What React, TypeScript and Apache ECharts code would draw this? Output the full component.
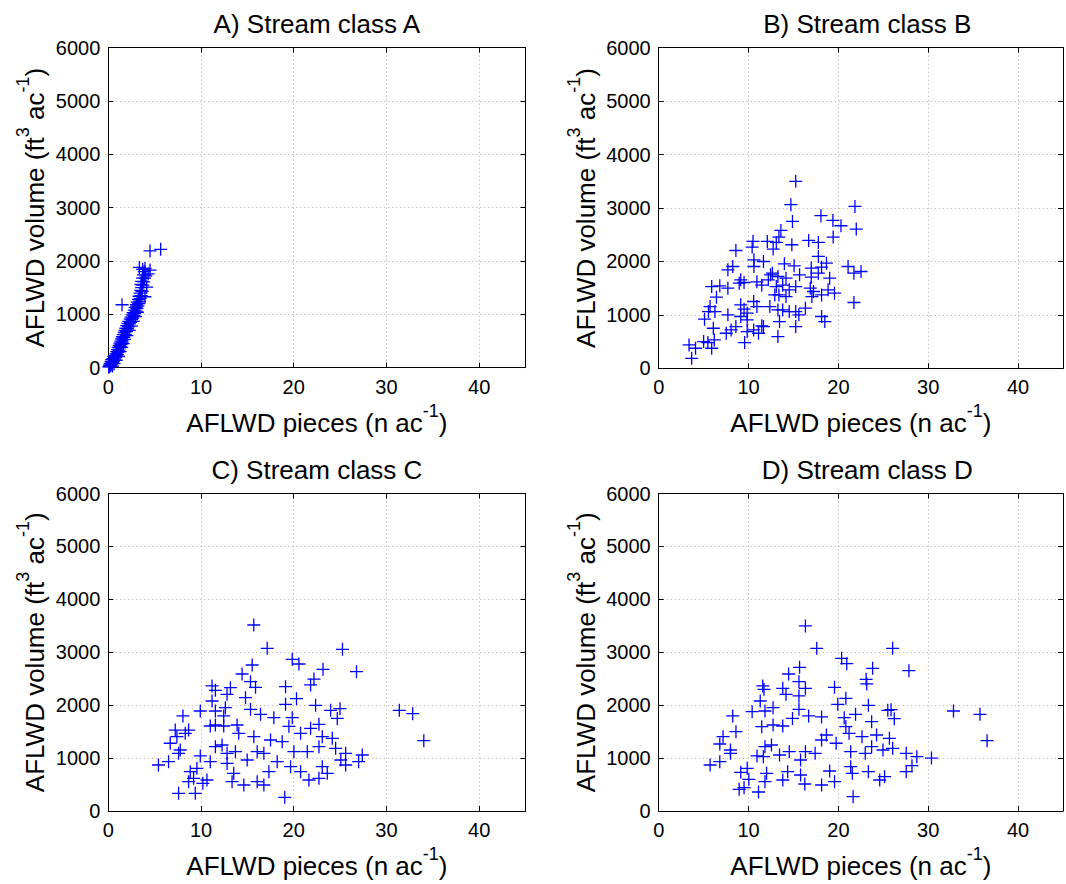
import React, { useEffect, useRef } from 'react';
import * as echarts from 'echarts';

const titles = ['A) Stream class A', 'B) Stream class B', 'C) Stream class C', 'D) Stream class D'];
const xName = '{m|AFLWD pieces (n ac}{s|-1}{m|)}';
const yName = '{m|AFLWD volume (ft}{s|3}{m| ac}{s|-1}{m|)}';
const xMin = 0, xMax = 45, xStep = 10;
const yMin = 0, yMax = 6000, yStep = 1000;

const panelA: number[][] = [
  [0.05, 15], [0.1, 50], [0.15, 20], [0.2, 80], [0.25, 40], [0.3, 120], [0.32, 65], [0.38, 150], [0.42, 95], [0.45, 30],
  [0.5, 170], [0.55, 120], [0.6, 210], [0.62, 75], [0.68, 160], [0.72, 230], [0.78, 190], [0.82, 260], [0.85, 140], [0.9, 220],
  [0.92, 300], [0.98, 250], [1.0, 340], [1.05, 290], [1.08, 380], [1.1, 210], [1.15, 330], [1.18, 420], [1.22, 370], [1.25, 460],
  [1.28, 300], [1.3, 400], [1.35, 500], [1.38, 440], [1.42, 540], [1.45, 380], [1.5, 480], [1.52, 580], [1.56, 520], [1.6, 450],
  [1.62, 620], [1.68, 570], [1.72, 660], [1.75, 530], [1.8, 700], [1.85, 620], [1.9, 740], [1.95, 680], [2.0, 790], [2.02, 600],
  [2.08, 730], [2.12, 830], [2.18, 770], [2.22, 870], [2.26, 700], [2.3, 820], [2.36, 910], [2.4, 850], [2.45, 950], [2.5, 780],
  [2.52, 900], [2.58, 990], [2.62, 930], [2.68, 1030], [2.7, 870], [2.75, 980], [2.8, 1080], [2.85, 1020], [2.9, 1130], [2.95, 960],
  [3.0, 1060], [3.02, 1180], [3.08, 1110], [3.12, 1230], [3.15, 1040], [3.2, 1160], [3.25, 1280], [3.28, 1200], [3.32, 1340], [3.38, 1250],
  [3.42, 1400], [3.45, 1300], [3.5, 1450], [3.55, 1350], [3.6, 1500], [3.52, 1560], [3.6, 1620], [3.65, 1430], [3.7, 1680], [3.72, 1550],
  [3.78, 1740], [3.82, 1610], [3.88, 1800], [3.9, 1680], [3.96, 1860], [4.05, 1720], [3.35, 1880], [3.7, 1845], [4.5, 1830], [4.3, 1760],
  [4.14, 1510], [3.96, 1330], [3.06, 1140], [4.5, 2190], [5.65, 2220], [1.48, 1180],
];

const panelB: number[][] = [
  [15.25, 3499], [14.71, 3062], [14.89, 2749], [18.06, 2856], [19.39, 2768], [20.29, 2668], [19.42, 2456], [13.6, 2580], [13.38, 2456], [13.09, 2355],
  [12.09, 2374], [10.5, 2374], [10.4, 2269], [8.59, 2205], [14.82, 2312], [16.69, 2393], [17.77, 2355], [17.77, 2093], [12.74, 2231], [10.6, 2031],
  [11.66, 1999], [10.6, 1905], [8.24, 1905], [7.7, 1843], [13.99, 1956], [15.07, 1918], [12.66, 1781], [12.45, 1750], [13.27, 1718], [14.17, 1687],
  [15.68, 1749], [16.98, 1875], [18.13, 1893], [18.67, 1968], [17.77, 1781], [19.03, 1687], [16.98, 1706], [9.13, 1656], [8.96, 1593], [9.5, 1606],
  [5.9, 1530], [6.8, 1543], [7.7, 1500], [10.93, 1618], [11.47, 1556], [12.2, 1656], [13.09, 1530], [13.8, 1556], [14.53, 1468], [15.25, 1530],
  [12.92, 1374], [13.38, 1374], [14.17, 1343], [16.87, 1500], [17.23, 1437], [17.05, 1343], [18.13, 1374], [19.57, 1406], [6.43, 1331], [5.72, 1155],
  [5.54, 1062], [6.26, 1062], [5.1, 919], [7.7, 1000], [9.13, 1187], [9.5, 1106], [9.85, 1031], [9.85, 906], [10.57, 1250], [10.93, 1155],
  [12.37, 1155], [13.27, 1093], [13.8, 1093], [14.53, 1062], [15.25, 1062], [15.6, 1000], [16.33, 1125], [18.13, 969], [18.49, 875], [15.25, 781],
  [13.45, 875], [11.47, 794], [10.57, 719], [11.11, 656], [9.85, 687], [8.59, 781], [8.06, 719], [7.52, 656], [6.08, 750], [6.19, 531],
  [5.47, 481], [5.9, 375], [5.0, 500], [3.38, 437], [4.1, 375], [3.67, 187], [9.57, 481], [13.27, 593], [11.66, 781], [9.13, 969],
  [21.84, 3030], [21.99, 2606], [21.08, 1905], [21.73, 1781], [22.52, 1812], [18.85, 1468], [21.73, 1231],
];

const panelC: number[][] = [
  [15.69, 3515], [17.14, 3075], [15.52, 2759], [14.43, 2589], [15.34, 2444], [15.88, 2338], [11.19, 2363], [11.55, 2281], [13.17, 2331], [12.81, 2205],
  [14.8, 2142], [11.19, 2079], [12.63, 1953], [11.55, 1890], [9.92, 1890], [8.05, 1796], [12.45, 1796], [15.34, 1922], [16.42, 1827], [17.86, 1764],
  [11.0, 1606], [11.55, 1625], [12.45, 1606], [13.89, 1625], [7.22, 1530], [8.66, 1530], [8.3, 1468], [7.4, 1405], [6.68, 1280], [7.76, 1153],
  [7.58, 1090], [9.92, 1040], [11.55, 1216], [12.27, 1247], [12.81, 1090], [13.71, 1121], [14.07, 1468], [14.98, 964], [15.7, 1405], [16.06, 1121],
  [16.78, 1090], [17.5, 1342], [5.41, 869], [6.5, 932], [8.84, 743], [9.56, 806], [9.2, 617], [8.66, 554], [10.64, 586], [11.0, 932],
  [12.81, 900], [13.53, 712], [13.35, 554], [14.62, 491], [16.06, 554], [16.78, 491], [17.32, 743], [7.58, 334], [9.38, 334], [10.2, 523],
  [25.26, 3056], [19.84, 2867], [20.56, 2778], [23.16, 2678], [26.77, 2633], [22.18, 2494], [21.82, 2382], [19.12, 2350], [20.3, 2123], [19.12, 2016],
  [22.36, 1997], [23.98, 1902], [24.99, 1934], [24.7, 1750], [31.39, 1902], [32.83, 1840], [34.03, 1329], [19.84, 1764], [22.72, 1638], [19.48, 1600],
  [20.74, 1468], [21.82, 1562], [23.08, 1405], [24.16, 1373], [18.76, 1310], [20.02, 1121], [21.46, 1121], [22.72, 1216], [24.52, 1184], [25.6, 1090],
  [27.4, 1058], [27.0, 932], [25.6, 869], [25.08, 964], [23.08, 837], [23.62, 712], [22.72, 617], [21.64, 586], [20.74, 743], [19.66, 837],
  [18.22, 932], [19.03, 258],
];

const panelD: number[][] = [
  [16.33, 3497], [17.59, 3075], [15.68, 2715], [14.46, 2589], [15.61, 2444], [16.33, 2319], [11.58, 2363], [11.72, 2300], [13.81, 2319], [14.17, 2205],
  [15.61, 2174], [11.3, 2079], [12.73, 1953], [11.83, 1890], [10.4, 1877], [8.24, 1796], [15.61, 1922], [16.69, 1796], [18.13, 1777], [19.57, 2338],
  [19.93, 2016], [11.47, 1594], [12.73, 1625], [13.81, 1606], [14.89, 1750], [8.6, 1499], [7.16, 1405], [6.8, 1266], [7.99, 1153], [7.99, 1090],
  [10.94, 1040], [11.83, 1216], [12.55, 1247], [13.45, 1058], [14.53, 1121], [15.79, 964], [16.33, 1121], [17.41, 1090], [18.13, 1342], [18.67, 1436],
  [19.75, 1280], [5.72, 869], [6.8, 932], [9.13, 731], [9.85, 806], [10.03, 598], [8.96, 409], [9.5, 441], [11.11, 359], [11.83, 554],
  [12.01, 712], [13.81, 586], [14.35, 743], [15.79, 680], [16.26, 510], [18.13, 491], [19.03, 756], [19.57, 554], [11.65, 1027], [20.65, 1764],
  [26.04, 3075], [23.81, 2697], [27.85, 2652], [20.36, 2886], [20.93, 2785], [23.09, 2489], [23.16, 2401], [20.83, 2129], [23.34, 1997], [25.5, 1902],
  [25.86, 1915], [26.22, 1745], [32.81, 1890], [35.76, 1827], [36.55, 1329], [30.36, 1001], [21.91, 1827], [20.83, 1594], [23.7, 1688], [21.19, 1468],
  [22.63, 1405], [24.25, 1436], [25.68, 1373], [21.37, 1121], [22.99, 1090], [23.7, 1216], [24.96, 1153], [26.04, 1184], [27.55, 1090], [28.73, 1027],
  [28.19, 857], [27.55, 743], [24.6, 586], [25.14, 649], [23.34, 743], [21.55, 712], [21.37, 837], [21.64, 271],
];

const panels = [panelA, panelB, panelC, panelD];

const FONT = "'Liberation Sans', Arial, Helvetica, sans-serif";
const grids = [
  { left: 108.3, top: 47.7, width: 417.2, height: 320 },
  { left: 658.7, top: 47.7, width: 417, height: 320.6 },
  { left: 108.3, top: 493.5, width: 417.2, height: 317.5 },
  { left: 658.7, top: 493.5, width: 417, height: 317.5 },
];

const richStyles = {
  m: { fontSize: 26, fontFamily: FONT, color: '#000', lineHeight: 42 },
  s: { fontSize: 18, fontFamily: FONT, color: '#000', lineHeight: 18, verticalAlign: 'top' },
};

function buildOption() {
  const xAxis: any[] = [];
  const yAxis: any[] = [];
  const series: any[] = [];
  const graphic: any[] = [];
  grids.forEach((g, i) => {
    const lineStyle = { color: '#000', width: 1 };
    xAxis.push({
      type: 'value', gridIndex: i, min: xMin, max: xMax, interval: xStep, position: 'bottom',
      axisLine: { show: true, onZero: false, lineStyle },
      axisTick: { show: true, inside: true, length: 5, lineStyle },
      axisLabel: {
        show: true, color: '#000', fontSize: 20, fontFamily: FONT, margin: 9,
        formatter: (v: number) => (v % xStep === 0 ? String(v) : ''),
      },
      splitLine: { show: true, lineStyle: { color: '#a8a8a8', type: [1, 3], width: 1 } },
      name: xName, nameLocation: 'middle', nameGap: 34,
      nameTextStyle: { fontSize: 26, fontFamily: FONT, color: '#000', rich: richStyles },
    });
    xAxis.push({
      type: 'value', gridIndex: i, min: xMin, max: xMax, interval: xStep, position: 'top',
      axisLine: { show: true, onZero: false, lineStyle },
      axisTick: { show: true, inside: true, length: 5, lineStyle },
      axisLabel: { show: false }, splitLine: { show: false },
    });
    yAxis.push({
      type: 'value', gridIndex: i, min: yMin, max: yMax, interval: yStep, position: 'left',
      axisLine: { show: true, onZero: false, lineStyle },
      axisTick: { show: true, inside: true, length: 5, lineStyle },
      axisLabel: {
        show: true, color: '#000', fontSize: 20, fontFamily: FONT, margin: 8,
        formatter: (v: number) => String(v),
      },
      splitLine: { show: true, lineStyle: { color: '#a8a8a8', type: [1, 3], width: 1 } },
      name: yName, nameLocation: 'middle', nameGap: 52,
      nameTextStyle: { fontSize: 26, fontFamily: FONT, color: '#000', rich: richStyles },
    });
    yAxis.push({
      type: 'value', gridIndex: i, min: yMin, max: yMax, interval: yStep, position: 'right',
      axisLine: { show: true, onZero: false, lineStyle },
      axisTick: { show: true, inside: true, length: 5, lineStyle },
      axisLabel: { show: false }, splitLine: { show: false },
    });
    series.push({
      type: 'scatter', xAxisIndex: 2 * i, yAxisIndex: 2 * i, data: panels[i],
      symbol: 'path://M0,6.5L13,6.5M6.5,0L6.5,13', symbolSize: 13, clip: false,
      itemStyle: { color: 'rgba(0,0,0,0)', borderColor: '#0000ff', borderWidth: 1.3, opacity: 1 },
      emphasis: { disabled: true }, silent: true,
    });
    graphic.push({
      type: 'text', x: g.left + g.width / 2, y: g.top - 24,
      style: {
        text: titles[i], fontSize: 26, fontFamily: FONT, fill: '#000',
        align: 'center', textAlign: 'center', verticalAlign: 'middle', textVerticalAlign: 'middle',
      },
    });
  });
  return {
    animation: false,
    backgroundColor: '#fff',
    grid: grids.map((g) => ({ ...g, containLabel: false, show: false })),
    xAxis, yAxis, series, graphic,
  };
}

export default function App() {
  const ref = useRef<HTMLDivElement>(null);
  useEffect(() => {
    if (!ref.current) return;
    const chart = echarts.init(ref.current, undefined, { renderer: 'svg' });
    chart.setOption(buildOption() as any);
    return () => chart.dispose();
  }, []);
  return (
    <div
      ref={ref}
      style={{ position: 'absolute', left: 0, top: 0, width: 1066, height: 884, background: '#fff' }}
    />
  );
}
